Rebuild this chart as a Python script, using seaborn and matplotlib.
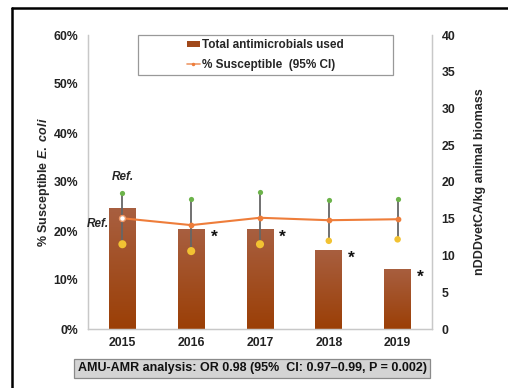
import numpy as np
import pandas as pd
import matplotlib
matplotlib.use("Agg")
import matplotlib.pyplot as plt
from matplotlib.lines import Line2D
from matplotlib.patches import Patch, Rectangle
import seaborn as sns

# ---- data ----
years = ["2015", "2016", "2017", "2018", "2019"]
usage = [16.4, 13.6, 13.6, 10.8, 8.2]          # nDDDvetCA/kg animal biomass
pct_susceptible = [22.6, 21.2, 22.7, 22.2, 22.4]  # %
ci_upper = [27.7, 26.5, 28.0, 26.3, 26.5]
ci_lower = [17.3, 15.9, 17.3, 18.0, 18.3]
significant = [False, True, True, True, True]
left_ticks = [0, 10, 20, 30, 40, 50, 60]
right_ticks = [0, 5, 10, 15, 20, 25, 30, 35, 40]

sns.set_style("white")
plt.rcParams["font.family"] = ["Liberation Sans", "DejaVu Sans"]
plt.rcParams["mathtext.fontset"] = "custom"
plt.rcParams["mathtext.it"] = "Liberation Sans:italic:bold"
plt.rcParams["mathtext.rm"] = "Liberation Sans:bold"

W, H = 508, 388
fig = plt.figure(figsize=(W / 100, H / 100), dpi=100)
ax = fig.add_axes([88 / W, 1 - 329 / H, (432 - 88) / W, (329 - 35) / H])

df = pd.DataFrame({"year": years, "usage": usage, "pct": pct_susceptible,
                   "lo": ci_lower, "hi": ci_upper})

# bars (usage) on primary axis, displayed on right
sns.barplot(data=df, x="year", y="usage", ax=ax, width=0.39, color="#a0481a",
            saturation=1, edgecolor="none", zorder=1)
ax.set_ylim(0, 40)
ax.set_xlim(-0.5, 4.5)

# gradient fill for bars
grad = np.linspace(0, 1, 256).reshape(-1, 1)
cmap = matplotlib.colors.LinearSegmentedColormap.from_list("brn", ["#9b3f06", "#a85f40"])
for p in list(ax.patches):
    x0, y0 = p.get_x(), p.get_y()
    w, h = p.get_width(), p.get_height()
    im = ax.imshow(grad, extent=[x0, x0 + w, y0, y0 + h], origin="lower",
                   cmap=cmap, aspect="auto", zorder=1.1)
    im.set_clip_path(p)
    p.set_facecolor("none")
ax.set_xlim(-0.5, 4.5)
ax.set_ylim(0, 40)

# asterisks
for i, (v, s) in enumerate(zip(usage, significant)):
    if s:
        ax.annotate("*", (i + 0.2, v), xytext=(4, -6), textcoords="offset points",
                    ha="left", va="center", fontsize=12.5, fontweight="bold", color="#111")

# percent axis
ax2 = ax.twinx()
ax.yaxis.tick_right()
ax.yaxis.set_label_position("right")
ax2.yaxis.tick_left()
ax2.yaxis.set_label_position("left")

xs = np.arange(len(years))
ax2.vlines(xs, df["lo"], df["hi"], color="#666666", lw=1.3, zorder=2)
sns.pointplot(data=df, x="year", y="pct", ax=ax2, color="#ee7d3a", markers="o",
              markersize=3, linewidth=1.5, errorbar=None, zorder=3)
ax2.scatter([xs[0]], [pct_susceptible[0]], s=18, facecolor="white",
            edgecolor="#ee9a6a", linewidth=1, zorder=4)
ax2.scatter(xs, ci_upper, s=14, color="#6cb34a", zorder=4, linewidth=0)
lo_sizes = [34, 34, 34, 22, 22]
ax2.scatter(xs, ci_lower, s=lo_sizes, color="#f2c232", zorder=4, linewidth=0)
ax2.set_ylim(0, 60)
ax2.set_xlim(-0.5, 4.5)

# Ref. labels
ax2.annotate("Ref.", (xs[0], ci_upper[0]), xytext=(0, 12), textcoords="offset points",
             ha="center", va="center", fontsize=8.5, fontweight="bold", style="italic")
ax2.annotate("Ref.", (xs[0], pct_susceptible[0]), xytext=(-10, -4), textcoords="offset points",
             ha="right", va="center", fontsize=8.5, fontweight="bold", style="italic")

# ticks / labels
ax2.set_yticks(left_ticks)
ax2.set_yticklabels([f"{t}%" for t in left_ticks])
ax.set_yticks(right_ticks)
ax.set_xticks(xs)
ax.set_xticklabels(years)
for a in (ax, ax2):
    a.tick_params(length=0, labelsize=8.8, labelcolor="#222222")
    for lab in a.get_xticklabels() + a.get_yticklabels():
        lab.set_fontweight("bold")
ax.tick_params(axis="y", pad=7)
ax2.tick_params(axis="y", pad=7)
ax.tick_params(axis="x", pad=6)
ax.set_xlabel("")
ax2.set_xlabel("")
ax2.set_ylabel(r"% Susceptible $\it{E.\ coli}$", fontsize=9, fontweight="bold", labelpad=1)
ax.set_ylabel("nDDDvetCA/kg animal biomass", fontsize=9, fontweight="bold", labelpad=13)

for a in (ax, ax2):
    a.spines["top"].set_visible(False)
    for s in ("left", "right", "bottom"):
        a.spines[s].set_color("#c8c8c8")
        a.spines[s].set_linewidth(0.9)

# legend with manual box
ax2.add_patch(Rectangle((0.145, 0.864), 0.742, 0.136, transform=ax2.transAxes,
                        facecolor="white", edgecolor="#999999", lw=0.9, zorder=5,
                        clip_on=False))
handles = [Patch(facecolor="#a0481a", edgecolor="none"),
           Line2D([0], [0], color="#ee9a6a", lw=1.2, marker="o", markersize=2.5,
                  markerfacecolor="#ee7d3a", markeredgecolor="none")]
leg = ax2.legend(handles, ["Total antimicrobials used", "% Susceptible  (95% CI)"],
                 loc="center", bbox_to_anchor=(0.516, 0.932), frameon=False,
                 prop={"weight": "bold", "size": 8.5}, handlelength=1.1,
                 handleheight=0.5, handletextpad=0.2, labelspacing=0.65,
                 borderpad=0.2)
leg.set_zorder(6)

# annotation box at bottom
fig.text(252 / W, 1 - 368.5 / H,
         "AMU-AMR analysis: OR 0.98 (95%  CI: 0.97\u20130.99, P = 0.002)",
         ha="center", va="center", fontsize=9, fontweight="bold", color="#111",
         bbox=dict(boxstyle="square,pad=0.3", facecolor="#d4d4d4", edgecolor="#8a8a8a", lw=0.9))

# outer frame (top & left)
fig.add_artist(Line2D([12 / W, 1], [1 - 8 / H, 1 - 8 / H], color="black", lw=1.8,
                      transform=fig.transFigure))
fig.add_artist(Line2D([12 / W, 12 / W], [0, 1 - 8 / H], color="black", lw=1.8,
                      transform=fig.transFigure))

fig.savefig("out.png", dpi=100)
